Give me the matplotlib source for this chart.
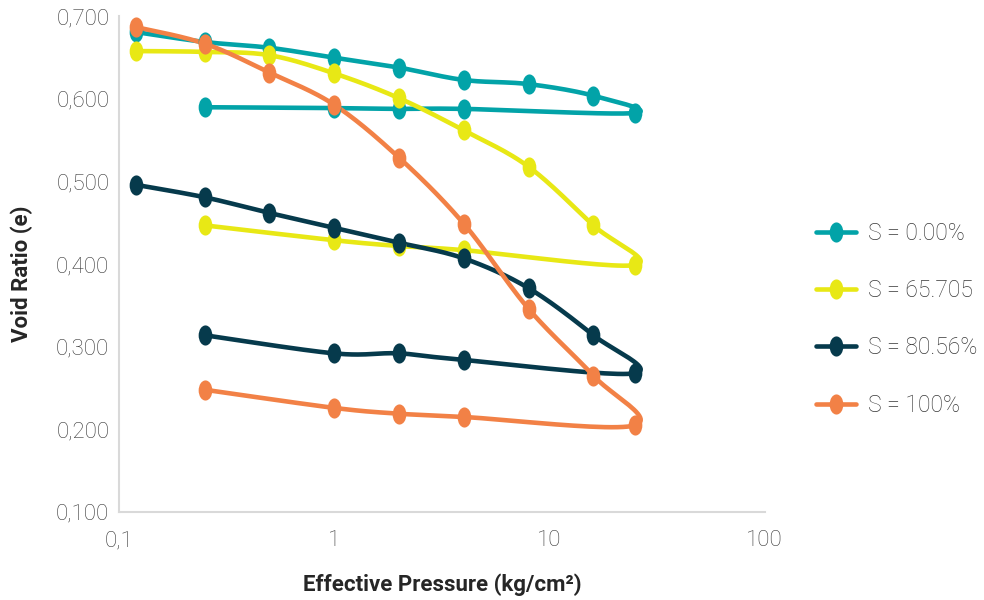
import numpy as np
import matplotlib
matplotlib.use("Agg")
import matplotlib.pyplot as plt
from matplotlib.path import Path
from matplotlib.ticker import FixedLocator, FixedFormatter, NullLocator

plt.rcParams['font.family'] = ['Roboto', 'DejaVu Sans']

# Loading to 25 kg/cm2, then unloading back
pressure = [0.12, 0.25, 0.5, 1, 2, 4, 8, 16, 25, 4, 2, 1, 0.25]

void_s000 = [0.681, 0.669, 0.662, 0.650, 0.638, 0.623, 0.618, 0.604, 0.583,
             0.588, 0.588, 0.589, 0.590]
void_s65 = [0.658, 0.657, 0.653, 0.631, 0.601, 0.562, 0.518, 0.447, 0.399,
            0.417, 0.422, 0.429, 0.447]
void_s80 = [0.496, 0.481, 0.462, 0.444, 0.426, 0.407, 0.371, 0.314, 0.268,
            0.284, 0.292, 0.292, 0.314]
void_s100 = [0.687, 0.667, 0.632, 0.593, 0.529, 0.449, 0.346, 0.265, 0.205,
             0.215, 0.219, 0.226, 0.248]

series_labels = ["S = 0.00%", "S = 65.705", "S = 80.56%", "S = 100%"]
series_values = [void_s000, void_s65, void_s80, void_s100]
series_colors = ["#02A3A8", "#E8E815", "#063A4C", "#F28146"]

y_ticks = [0.1, 0.2, 0.3, 0.4, 0.5, 0.6, 0.7]
y_tick_labels = ["0,100", "0,200", "0,300", "0,400", "0,500", "0,600", "0,700"]
x_ticks = [0.1, 1, 10, 100]
x_tick_labels = ["0,1", "1", "10", "100"]


def smooth(xs, ys, steps=24):
    """Catmull-Rom curve through the points, built in log-x space."""
    lx = np.log10(np.asarray(xs, float))
    y = np.asarray(ys, float)
    P = np.column_stack([lx, y])
    P = np.vstack([P[0], P, P[-1]])
    out = []
    for i in range(1, len(P) - 2):
        p0, p1, p2, p3 = P[i - 1], P[i], P[i + 1], P[i + 2]
        t = np.linspace(0, 1, steps, endpoint=False)[:, None]
        seg = 0.5 * ((2 * p1) + (-p0 + p2) * t
                     + (2 * p0 - 5 * p1 + 4 * p2 - p3) * t ** 2
                     + (-p0 + 3 * p1 - 3 * p2 + p3) * t ** 3)
        out.append(seg)
    out.append(P[-2][None, :])
    out = np.vstack(out)
    return 10 ** out[:, 0], out[:, 1]


# tall elliptical marker
circ = Path.unit_circle()
ellipse = Path(circ.vertices * np.array([0.68, 1.0]), circ.codes)

fig = plt.figure(figsize=(9.84, 6.0), dpi=100)
ax = fig.add_axes([0.121, 0.1467, 0.656, 0.826])

for vals, col, lab in zip(series_values, series_colors, series_labels):
    sx, sy = smooth(pressure, vals)
    ax.plot(sx, sy, color=col, lw=3.3, solid_capstyle='round', zorder=2)
    ax.plot(pressure, vals, linestyle='none', marker=ellipse, markersize=14.5,
            color=col, markeredgewidth=0, zorder=3)
    ax.plot([], [], color=col, lw=3.3, marker=ellipse, markersize=14.5,
            markeredgewidth=0, label=lab, solid_capstyle='round')

ax.set_xscale('log')
ax.set_xlim(0.1, 100)
ax.set_ylim(0.1, 0.7)
ax.xaxis.set_major_locator(FixedLocator(x_ticks))
ax.xaxis.set_major_formatter(FixedFormatter(x_tick_labels))
ax.xaxis.set_minor_locator(NullLocator())
ax.yaxis.set_major_locator(FixedLocator(y_ticks))
ax.yaxis.set_major_formatter(FixedFormatter(y_tick_labels))

for side in ('top', 'right'):
    ax.spines[side].set_visible(False)
for side in ('left', 'bottom'):
    ax.spines[side].set_color('#D9D9D9')
    ax.spines[side].set_linewidth(1.5)

ax.tick_params(axis='both', length=0, labelsize=16, colors='#383838')
ax.tick_params(axis='y', pad=7)
ax.tick_params(axis='x', pad=13)
for t in ax.get_xticklabels() + ax.get_yticklabels():
    t.set_fontweight('light')

fig.text(442 / 984, 1 - 585 / 600, "Effective Pressure (kg/cm²)",
         fontsize=16, fontweight='bold', color='#262626',
         ha='center', va='center')
fig.text(22 / 984, 1 - 274 / 600, "Void Ratio (e)", rotation=90,
         fontsize=16, fontweight='bold', color='#262626',
         ha='center', va='center')

leg = fig.legend(loc='center left', bbox_to_anchor=(0.808, 0.468),
                 frameon=False, fontsize=16.5, handlelength=1.75,
                 labelspacing=1.5, handletextpad=0.55, numpoints=1)
for t in leg.get_texts():
    t.set_color('#383838')
    t.set_fontweight('light')

fig.savefig("out.png", dpi=100, facecolor='white')
